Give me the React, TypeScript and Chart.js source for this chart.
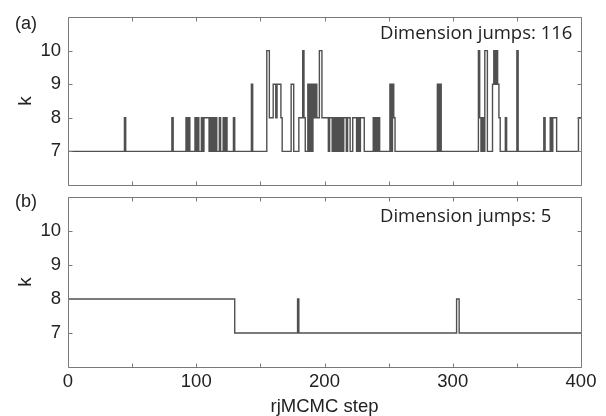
import React, { useEffect, useRef } from 'react';
import { Chart, registerables } from 'chart.js';

Chart.register(...registerables);

// Panel (a): step at which k changes, and the new k value
const stepsA = [
  0, 44, 45, 81, 82, 92, 93, 94, 95, 99, 100, 101, 102, 104, 105, 106, 110, 111, 112, 113, 114, 115, 116, 118, 119, 121, 122, 123, 124, 129, 130,
  143, 144, 155, 157, 160, 162, 163, 166, 167, 174, 176, 180, 183, 184, 185, 187, 188, 189, 190, 191, 192, 193, 194, 196, 198,
  203, 204, 206, 207, 208, 209, 210, 211, 212, 213, 214, 215, 217, 218, 220, 222, 225, 226, 227, 228, 231,
  238, 239, 240, 241, 242, 243, 251, 252, 253, 254, 255,
  288, 289, 290, 291, 320, 321, 322, 323, 324, 325, 327, 331, 332, 333, 334, 335, 336, 337, 341, 342, 350, 351,
  371, 372, 376, 377, 378, 381, 398, 400,
];
const kA = [
  7, 8, 7, 8, 7, 8, 7, 8, 7, 8, 7, 8, 7, 8, 7, 8, 7, 8, 7, 8, 7, 8, 7, 8, 7, 8, 7, 8, 7, 8, 7,
  9, 7, 10, 8, 9, 8, 9, 8, 7, 9, 7, 8, 10, 8, 7, 9, 7, 9, 7, 9, 8, 9, 8, 10, 8,
  7, 8, 7, 8, 7, 8, 7, 8, 7, 8, 7, 8, 7, 8, 7, 8, 7, 8, 7, 8, 7,
  8, 7, 8, 7, 8, 7, 9, 7, 9, 8, 7,
  9, 7, 9, 7, 10, 8, 7, 8, 7, 10, 7, 9, 10, 9, 10, 9, 8, 7, 8, 7, 10, 7,
  8, 7, 8, 7, 8, 7, 8, 8,
];

// Panel (b)
const stepsB = [0, 130, 179, 180, 303, 305, 400];
const kB = [8, 7, 8, 7, 8, 7, 7];

const jumpsA = 116;
const jumpsB = 5;

const xLabelTicks = [0, 100, 200, 300, 400];
const xMinorTicks = [0, 50, 100, 150, 200, 250, 300, 350, 400];
const yTicks = [7, 8, 9, 10];

const FONT = 'Liberation Sans';
const TEXT = '#222222';
const FRAME = '#7a7a7a';
const LINE = '#505050';

const decorPlugin = {
  id: 'panelDecor',
  afterDraw(chart: any, _args: any, opts: any) {
    const { ctx, chartArea: a, scales } = chart;
    const xs = scales.x;
    const ys = scales.y;
    const L = Math.round(a.left) + 0.5;
    const R = Math.round(a.right) + 0.5;
    const T = Math.round(a.top) + 0.5;
    const B = Math.round(a.bottom) + 0.5;
    ctx.save();
    ctx.strokeStyle = FRAME;
    ctx.lineWidth = 1;
    ctx.beginPath();
    ctx.rect(L, T, R - L, B - T);
    const tl = 4;
    xMinorTicks.forEach((v) => {
      const px = Math.round(xs.getPixelForValue(v)) + 0.5;
      ctx.moveTo(px, T);
      ctx.lineTo(px, T + tl);
      ctx.moveTo(px, B);
      ctx.lineTo(px, B - tl);
    });
    yTicks.forEach((v) => {
      const py = Math.round(ys.getPixelForValue(v)) + 0.5;
      ctx.moveTo(L, py);
      ctx.lineTo(L + tl, py);
      ctx.moveTo(R, py);
      ctx.lineTo(R - tl, py);
    });
    ctx.stroke();

    ctx.fillStyle = TEXT;
    ctx.textBaseline = 'middle';
    ctx.textAlign = 'left';
    ctx.font = `18px "${FONT}"`;
    ctx.fillText(opts.label, 15, opts.labelY);
    ctx.font = '18.5px "Open Sans"';
    ctx.fillText(opts.note, 380, opts.noteY);
    ctx.restore();
  },
};

function yScale() {
  return {
    type: 'linear',
    min: 6,
    max: 11,
    afterBuildTicks: (s: any) => {
      s.ticks = yTicks.map((v) => ({ value: v }));
    },
    afterFit: (s: any) => {
      s.width = 68;
      s.paddingTop = 0;
      s.paddingBottom = 0;
    },
    grid: { display: false, drawTicks: false },
    border: { display: false },
    ticks: { font: { family: FONT, size: 18.5 }, color: TEXT, padding: 7 },
    title: {
      display: true,
      text: 'k',
      font: { family: FONT, size: 19 },
      color: TEXT,
      padding: { top: 14, bottom: 0 },
    },
  };
}

function lineDataset(steps: number[], ks: number[]) {
  return {
    data: steps.map((s, i) => ({ x: s, y: ks[i] })),
    stepped: true,
    borderColor: LINE,
    borderWidth: 1.4,
    pointRadius: 0,
    fill: false,
  };
}

export default function App() {
  const refA = useRef<HTMLCanvasElement>(null);
  const refB = useRef<HTMLCanvasElement>(null);

  useEffect(() => {
    document.body.style.margin = '0';
    const chartA = new Chart(refA.current as HTMLCanvasElement, {
      type: 'line',
      data: { datasets: [lineDataset(stepsA, kA) as any] },
      options: {
        animation: false,
        responsive: false,
        layout: { padding: { left: 0, right: 25, top: 17, bottom: 5 } },
        plugins: {
          legend: { display: false },
          tooltip: { enabled: false },
          panelDecor: { label: '(a)', labelY: 24, note: `Dimension jumps: ${jumpsA}`, noteY: 34 },
        } as any,
        scales: {
          x: { type: 'linear', min: 0, max: 400, display: false },
          y: yScale() as any,
        },
      },
      plugins: [decorPlugin],
    });

    const chartB = new Chart(refB.current as HTMLCanvasElement, {
      type: 'line',
      data: { datasets: [lineDataset(stepsB, kB) as any] },
      options: {
        animation: false,
        responsive: false,
        layout: { padding: { left: 0, right: 25, top: 7, bottom: 0 } },
        plugins: {
          legend: { display: false },
          tooltip: { enabled: false },
          panelDecor: { label: '(b)', labelY: 12, note: `Dimension jumps: ${jumpsB}`, noteY: 27 },
        } as any,
        scales: {
          x: {
            type: 'linear',
            min: 0,
            max: 400,
            afterBuildTicks: (s: any) => {
              s.ticks = xLabelTicks.map((v) => ({ value: v }));
            },
            afterFit: (s: any) => {
              s.height = 49;
              s.paddingLeft = 0;
              s.paddingRight = 0;
            },
            grid: { display: false, drawTicks: false },
            border: { display: false },
            ticks: { font: { family: FONT, size: 18.5 }, color: TEXT, padding: 4, maxRotation: 0, autoSkip: false },
            title: {
              display: true,
              text: 'rjMCMC step',
              font: { family: FONT, size: 18.5, lineHeight: 1 },
              color: TEXT,
              padding: { top: 0, bottom: 0 },
            },
          } as any,
          y: yScale() as any,
        },
      },
      plugins: [decorPlugin],
    });

    return () => {
      chartA.destroy();
      chartB.destroy();
    };
  }, []);

  return (
    <div style={{ position: 'relative', width: 606, height: 416, background: '#fff' }}>
      <canvas ref={refA} width={606} height={190} style={{ position: 'absolute', left: 0, top: 0, display: 'block' }} />
      <canvas ref={refB} width={606} height={226} style={{ position: 'absolute', left: 0, top: 190, display: 'block' }} />
    </div>
  );
}
